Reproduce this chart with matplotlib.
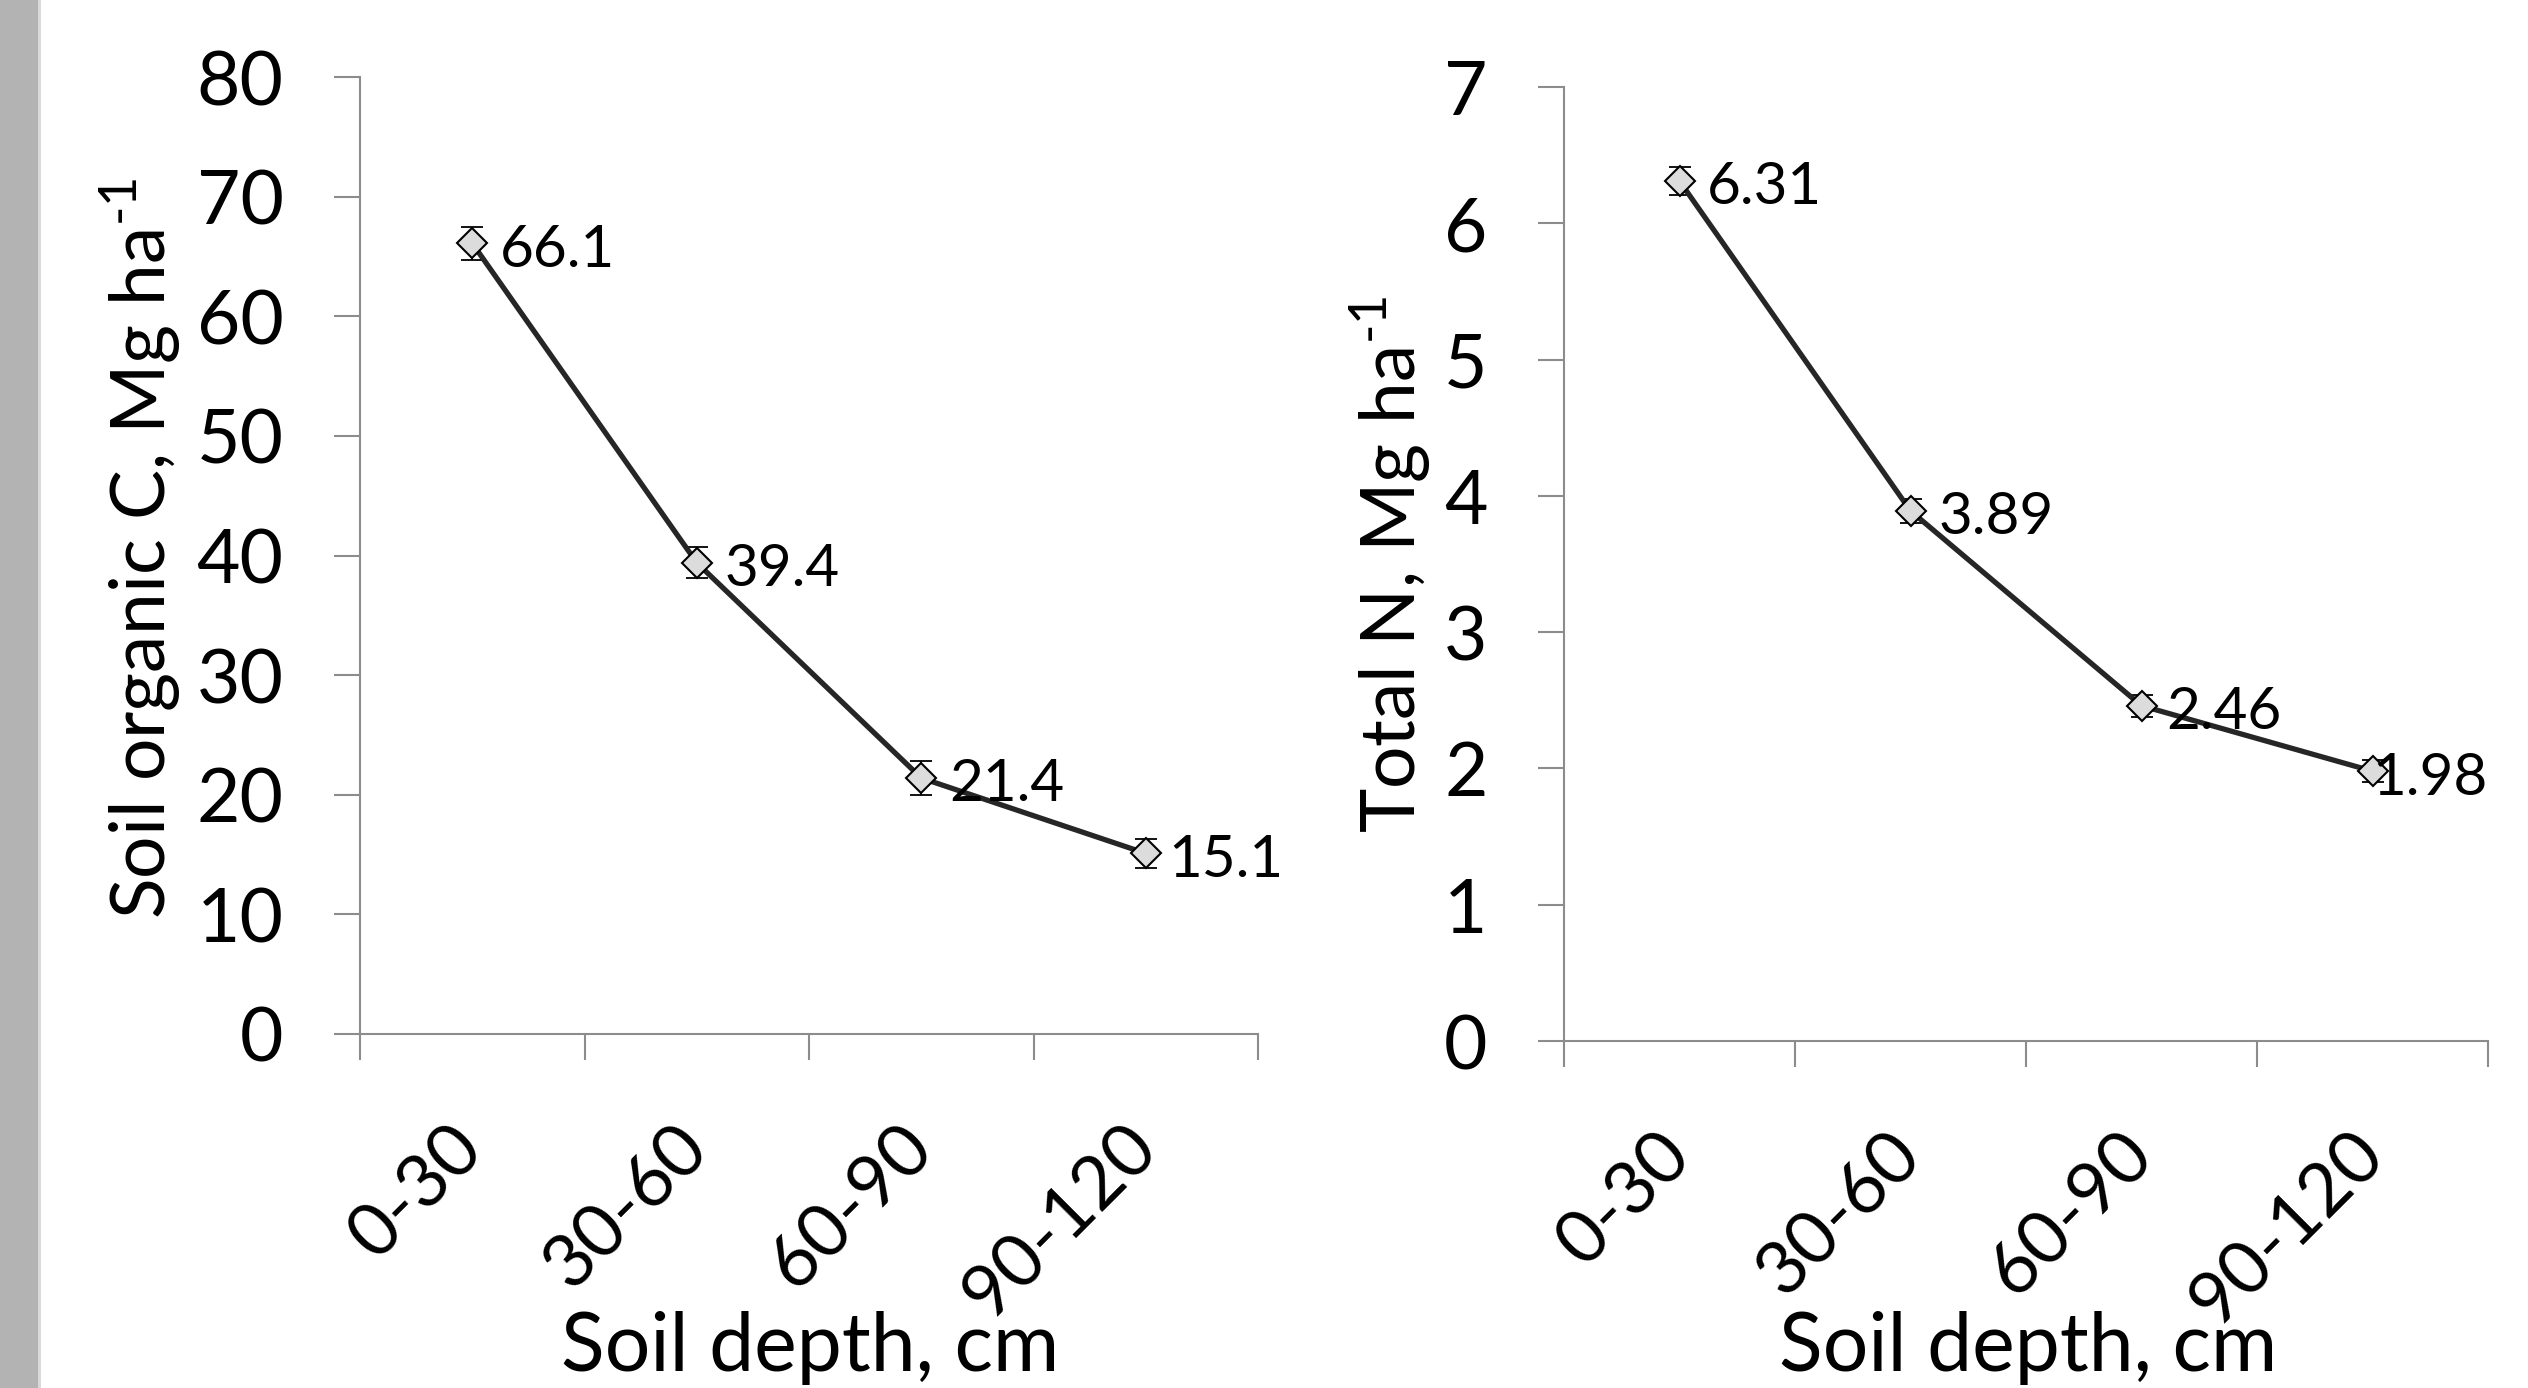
import matplotlib
matplotlib.use("Agg")
import matplotlib.pyplot as plt
from matplotlib.patches import Rectangle
import numpy as np

plt.rcParams['font.family'] = ['Lato', 'DejaVu Sans']
plt.rcParams['mathtext.fontset'] = 'custom'
plt.rcParams['mathtext.rm'] = 'Lato'

categories = ["0-30", "30-60", "60-90", "90-120"]
soc_values = [66.1, 39.4, 21.4, 15.1]
soc_err = [1.4, 1.3, 1.4, 1.2]
soc_labels = ["66.1", "39.4", "21.4", "15.1"]
tn_values = [6.31, 3.89, 2.46, 1.98]
tn_err = [0.10, 0.09, 0.08, 0.08]
tn_labels = ["6.31", "3.89", "2.46", "1.98"]

W, H = 2528, 1388
fig = plt.figure(figsize=(W / 100, H / 100), dpi=100)
fig.patch.set_facecolor("white")

# grey strip on the left edge
fig.add_artist(Rectangle((0, 0), 38 / W, 1, transform=fig.transFigure,
                         facecolor="#b3b3b3", edgecolor="none"))
fig.add_artist(Rectangle((38 / W, 0), 3 / W, 1, transform=fig.transFigure,
                         facecolor="#d9d9d9", edgecolor="none"))

def box(x0, x1, ytop, ybot):
    return [x0 / W, 1 - ybot / H, (x1 - x0) / W, (ybot - ytop) / H]

ax1 = fig.add_axes(box(360, 1258, 77, 1034))
ax2 = fig.add_axes(box(1564, 2488, 87, 1041))

spine_col = "#8c8c8c"

def style(ax, vals, errs, labels, ymax, ystep, label_offsets, ylab, ylab_x, ylab_y, xlab_x):
    x = np.arange(len(categories)) + 0.5
    ax.errorbar(x, vals, yerr=errs, fmt="none", ecolor="black", elinewidth=1.3,
                capsize=8, capthick=1.3, zorder=2)
    ax.plot(x, vals, color="#262626", lw=3.8, marker="D", markersize=15,
            markerfacecolor="#dcdcdc", markeredgecolor="black",
            markeredgewidth=1.5, zorder=3)
    for xi, v, lab, off in zip(x, vals, labels, label_offsets):
        ax.annotate(lab, (xi, v), xytext=(off, -5), textcoords="offset points",
                    ha="left", va="center", fontsize=42, color="black", zorder=4)
    ax.set_xlim(0, len(categories))
    ax.set_ylim(0, ymax)
    ax.set_yticks(np.arange(0, ymax + ystep / 2, ystep))
    ax.set_xticks(np.arange(0, len(categories) + 1))
    ax.set_xticklabels([])
    ax.set_xticks(x, minor=True)
    ax.set_xticklabels(categories, minor=True, rotation=45, ha="right",
                       va="center", rotation_mode="anchor", fontsize=53)
    ax.tick_params(axis="x", which="minor", length=0, pad=74)
    ax.tick_params(axis="x", which="major", length=19, width=1.5, color=spine_col)
    ax.tick_params(axis="y", length=19, width=1.5, color=spine_col, pad=36,
                   labelsize=54)
    for s in ["top", "right"]:
        ax.spines[s].set_visible(False)
    for s in ["left", "bottom"]:
        ax.spines[s].set_color(spine_col)
        ax.spines[s].set_linewidth(1.5)
    fig.text(ylab_x / W, 1 - ylab_y / H, ylab, rotation=90, ha="center",
             va="center", fontsize=54)
    fig.text(xlab_x / W, 1 - 1348 / H, "Soil depth, cm", ha="center",
             va="center", fontsize=58)

style(ax1, soc_values, soc_err, soc_labels, 80, 10, [20, 20, 20, 16],
      "Soil organic C, Mg ha$^{\\text{-1}}$", 140, 548, 810)
style(ax2, tn_values, tn_err, tn_labels, 7, 1, [20, 20, 18, 0],
      "Total N, Mg ha$^{\\text{-1}}$", 1390, 564, 2028)

fig.savefig("out.png", dpi=100)
